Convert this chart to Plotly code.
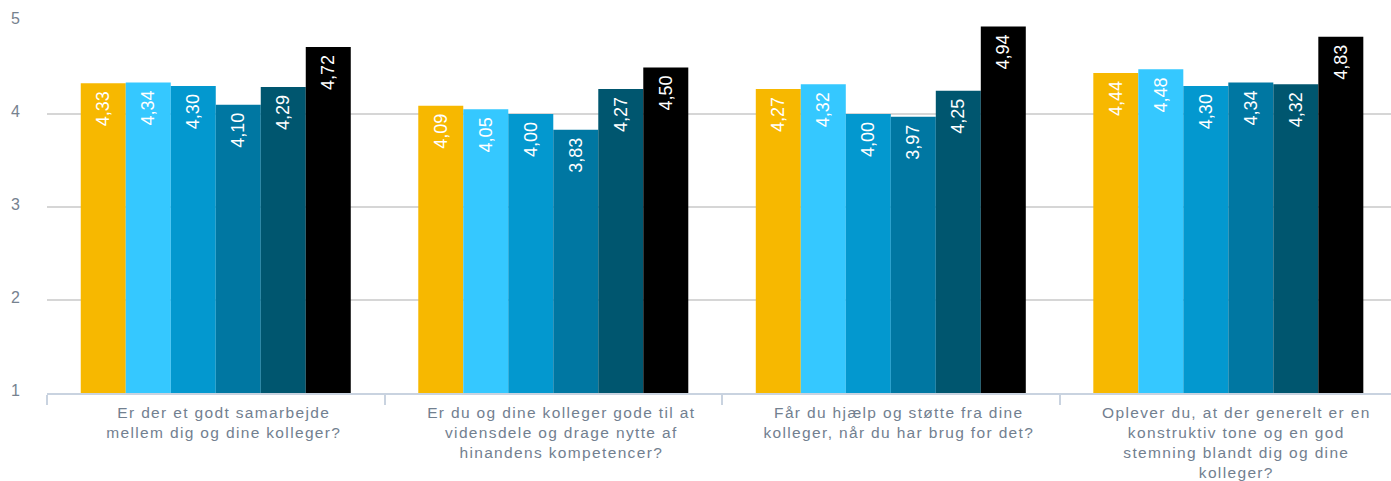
import plotly.graph_objects as go

# Survey questions (x categories)
categories = [
    "Er der et godt samarbejde<br>mellem dig og dine kolleger?",
    "Er du og dine kolleger gode til at<br>vidensdele og drage nytte af<br>hinandens kompetencer?",
    "Får du hjælp og støtte fra dine<br>kolleger, når du har brug for det?",
    "Oplever du, at der generelt er en<br>konstruktiv tone og en god<br>stemning blandt dig og dine<br>kolleger?",
]

# Average score per group for each question
serie_1 = [4.33, 4.09, 4.27, 4.44]
serie_2 = [4.34, 4.05, 4.32, 4.48]
serie_3 = [4.30, 4.00, 4.00, 4.30]
serie_4 = [4.10, 3.83, 3.97, 4.34]
serie_5 = [4.29, 4.27, 4.25, 4.32]
serie_6 = [4.72, 4.50, 4.94, 4.83]

series = [serie_1, serie_2, serie_3, serie_4, serie_5, serie_6]
series_names = ["Gruppe 1", "Gruppe 2", "Gruppe 3", "Gruppe 4", "Gruppe 5", "Total"]
colors = ["#F7B800", "#35C8FF", "#0398CF", "#0077A2", "#00566F", "#000000"]

y_ticks = [1, 2, 3, 4, 5]

FONT = "Liberation Sans, Arial, Helvetica, sans-serif"


def fmt(v):
    # Danish decimal comma; trailing no-break space keeps the label off the bar top
    return f"{v:.2f}".replace(".", ",") + "\u00a0"


fig = go.Figure()
for name, values, color in zip(series_names, series, colors):
    fig.add_trace(go.Bar(
        x=categories,
        y=values,
        name=name,
        marker=dict(color=color, line=dict(width=0)),
        text=[fmt(v) for v in values],
        textposition="inside",
        insidetextanchor="end",
        textangle=-90,
        constraintext="none",
        textfont=dict(color="white", size=18, family=FONT),
        hoverinfo="skip",
    ))

fig.update_layout(
    width=1391,
    height=481,
    margin=dict(l=47, r=0, t=21, b=88, autoexpand=False),
    barmode="group",
    bargap=0.2,
    bargroupgap=0,
    showlegend=False,
    plot_bgcolor="white",
    paper_bgcolor="white",
    font=dict(family=FONT, color="#76828F"),
)

fig.update_xaxes(
    type="category",
    range=[-0.5, 3.482],  # last category runs slightly past the right edge
    automargin=False,
    tickson="boundaries",
    ticks="outside",
    ticklen=10,
    tickcolor="#C9D3E0",
    tickwidth=2,
    showline=True,
    linecolor="#C9D3E0",
    linewidth=2,
    showgrid=False,
    ticklabelstandoff=4,
    ticklabelshift=8,
    tickfont=dict(size=15.5, color="#728090", family=FONT),
)

fig.update_yaxes(
    range=[1, 5],
    automargin=False,
    tickvals=y_ticks,
    ticktext=[str(t) for t in y_ticks],
    showgrid=True,
    gridcolor="#D6D6D6",
    gridwidth=1.5,
    zeroline=False,
    showline=False,
    ticks="",
    ticklabelstandoff=26,
    ticklabelshift=-3,
    tickfont=dict(size=16, color="#76828F", family=FONT),
)

# Looser tracking for the category labels
post = (
    "var st=document.createElement('style');"
    "st.textContent='.xtick text{letter-spacing:1.35px}';"
    "document.head.appendChild(st);"
)

fig.write_html("out.html", post_script=post)
